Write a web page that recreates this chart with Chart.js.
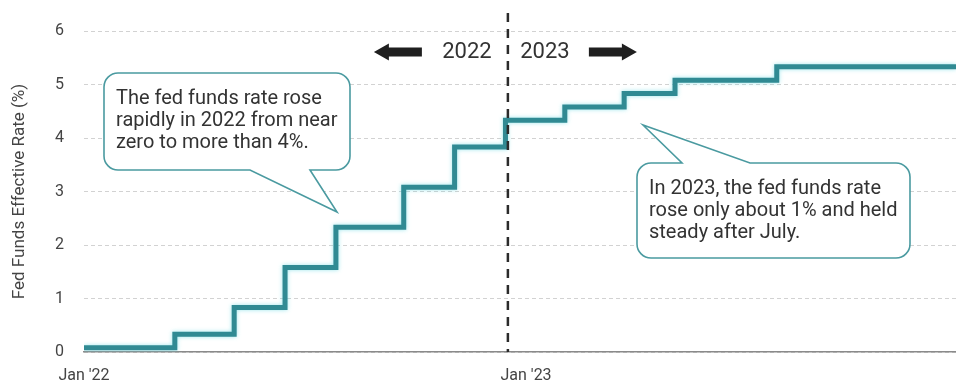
<!DOCTYPE html>
<html lang="en">
<head>
  <meta charset="UTF-8">
  <title>Fed Funds Effective Rate 2022-2023</title>
  <script src="https://cdn.jsdelivr.net/npm/chart.js"></script>
  <style>
    body {
      margin: 0;
      background: #ffffff;
    }
    #wrap {
      position: relative;
      width: 956px;
      height: 383px;
    }
  </style>
</head>
<body>
  <div id="wrap"><canvas id="graphTaux"></canvas></div>

  <script>
    // dates where the effective rate changed, and the new level (%)
    const changeDates = ['2022-01-01', '2022-03-17', '2022-05-05', '2022-06-16', '2022-07-28', '2022-09-22',
                         '2022-11-03', '2022-12-15', '2023-02-02', '2023-03-23', '2023-05-04', '2023-07-27', '2023-12-22'];
    const rates = [0.08, 0.33, 0.83, 1.58, 2.33, 3.08, 3.83, 4.33, 4.58, 4.83, 5.08, 5.33, 5.33];
    const xTickDates = ['2022-01-01', '2023-01-01'];
    const xTickLabels = ["Jan '22", "Jan '23"];
    const yTicks = [0, 1, 2, 3, 4, 5, 6];
    const dividerDate = '2022-12-17';
    const yearLabels = ['2022', '2023'];
    const note2022 = ['The fed funds rate rose', 'rapidly in 2022 from near', 'zero to more than 4%.'];
    const note2023 = ['In 2023, the fed funds rate', 'rose only about 1% and held', 'steady after July.'];

    const origin = Date.UTC(2022, 0, 1);
    function dayOf(s) {
      const p = s.split('-');
      return Math.round((Date.UTC(+p[0], +p[1] - 1, +p[2]) - origin) / 86400000);
    }

    const points = changeDates.map((d, i) => ({ x: dayOf(d), y: rates[i] }));
    const xTickDays = xTickDates.map(dayOf);

    function callout(ctx, b, tail, lines) {
      const r = 14;
      ctx.save();
      ctx.beginPath();
      ctx.moveTo(b.x + r, b.y);
      if (tail.side === 'top') {
        ctx.lineTo(tail.x1, b.y);
        ctx.lineTo(tail.tx, tail.ty);
        ctx.lineTo(tail.x2, b.y);
      }
      ctx.lineTo(b.x + b.w - r, b.y);
      ctx.arcTo(b.x + b.w, b.y, b.x + b.w, b.y + r, r);
      ctx.lineTo(b.x + b.w, b.y + b.h - r);
      ctx.arcTo(b.x + b.w, b.y + b.h, b.x + b.w - r, b.y + b.h, r);
      if (tail.side === 'bottom') {
        ctx.lineTo(tail.x2, b.y + b.h);
        ctx.lineTo(tail.tx, tail.ty);
        ctx.lineTo(tail.x1, b.y + b.h);
      }
      ctx.lineTo(b.x + r, b.y + b.h);
      ctx.arcTo(b.x, b.y + b.h, b.x, b.y + b.h - r, r);
      ctx.lineTo(b.x, b.y + r);
      ctx.arcTo(b.x, b.y, b.x + r, b.y, r);
      ctx.closePath();
      ctx.fillStyle = '#ffffff';
      ctx.fill();
      ctx.lineWidth = 1.6;
      ctx.strokeStyle = '#4a9aa0';
      ctx.stroke();
      ctx.fillStyle = '#333333';
      ctx.font = '20px Roboto';
      ctx.textBaseline = 'middle';
      ctx.textAlign = 'left';
      lines.forEach((t, i) => ctx.fillText(t, b.x + 12, b.y + 26 + i * 22));
      ctx.restore();
    }

    function arrow(ctx, x0, x1, y, dir) {
      // dir = -1 points left, 1 points right
      const head = 15;
      const tipX = dir < 0 ? x0 : x1;
      const baseX = tipX - dir * head;
      ctx.beginPath();
      ctx.moveTo(tipX, y);
      ctx.lineTo(baseX, y - 8.5);
      ctx.lineTo(baseX, y - 4.5);
      ctx.lineTo(dir < 0 ? x1 : x0, y - 4.5);
      ctx.lineTo(dir < 0 ? x1 : x0, y + 4.5);
      ctx.lineTo(baseX, y + 4.5);
      ctx.lineTo(baseX, y + 8.5);
      ctx.closePath();
      ctx.fill();
    }

    const lineGlow = {
      id: 'lineGlow',
      beforeDatasetDraw(chart) {
        chart.ctx.save();
        chart.ctx.shadowColor = 'rgba(90, 215, 225, 0.6)';
        chart.ctx.shadowBlur = 4;
      },
      afterDatasetDraw(chart) {
        chart.ctx.restore();
      }
    };

    const annotations = {
      id: 'annotations',
      afterDatasetsDraw(chart) {
        const ctx = chart.ctx;
        const xs = chart.scales.x;
        const area = chart.chartArea;
        const dx = xs.getPixelForValue(dayOf(dividerDate));

        ctx.save();
        ctx.strokeStyle = '#2b2b2b';
        ctx.lineWidth = 2.5;
        ctx.setLineDash([9, 7]);
        ctx.beginPath();
        ctx.moveTo(dx, 13);
        ctx.lineTo(dx, area.bottom);
        ctx.stroke();
        ctx.setLineDash([]);

        ctx.fillStyle = '#333333';
        ctx.font = '22px Roboto';
        ctx.textAlign = 'center';
        ctx.textBaseline = 'middle';
        ctx.fillText(yearLabels[0], dx - 41, 52);
        ctx.fillText(yearLabels[1], dx + 37, 52);

        ctx.fillStyle = '#1f1f1f';
        arrow(ctx, dx - 134, dx - 86, 52, -1);
        arrow(ctx, dx + 81, dx + 129, 52, 1);
        ctx.restore();

        callout(ctx, { x: 104, y: 73, w: 246, h: 97 }, { side: 'bottom', x1: 250, x2: 310, tx: 337, ty: 212 }, note2022);
        callout(ctx, { x: 637, y: 163, w: 273, h: 95 }, { side: 'top', x1: 682, x2: 750, tx: 643, ty: 125 }, note2023);
      }
    };

    new Chart(document.getElementById('graphTaux'), {
      type: 'line',
      data: {
        datasets: [{
          label: 'Fed Funds Effective Rate',
          data: points,
          stepped: true,
          borderColor: '#308a93',
          borderWidth: 5,
          pointRadius: 0,
          fill: false
        }]
      },
      options: {
        responsive: true,
        maintainAspectRatio: false,
        animation: false,
        layout: { padding: { top: 31, right: 0, bottom: 0, left: 0 } },
        plugins: { legend: { display: false }, tooltip: { enabled: false } },
        scales: {
          x: {
            type: 'linear',
            min: 0,
            max: 720,
            afterBuildTicks: s => { s.ticks = xTickDays.map(v => ({ value: v })); },
            afterFit: s => { s.height = 31; },
            ticks: {
              autoSkip: false,
              maxRotation: 0,
              padding: 14,
              color: '#444444',
              font: { family: 'Roboto', size: 16 },
              callback: v => xTickLabels[xTickDays.indexOf(v)]
            },
            grid: { display: false, drawTicks: false },
            border: { display: true, color: '#8a8a8a', width: 1.5 }
          },
          y: {
            min: 0,
            max: 6,
            afterBuildTicks: s => { s.ticks = yTicks.map(v => ({ value: v })); },
            afterFit: s => { s.width = 84; },
            ticks: {
              padding: 20,
              color: '#444444',
              font: { family: 'Roboto', size: 16 }
            },
            grid: { color: '#d2d2d2', lineWidth: 1, drawTicks: false },
            border: { display: false, dash: [4, 3] },
            title: {
              display: true,
              text: 'Fed Funds Effective Rate (%)',
              color: '#444444',
              font: { family: 'Roboto', size: 17 },
              padding: { top: 10, bottom: 0 }
            }
          }
        }
      },
      plugins: [lineGlow, annotations]
    });
  </script>
</body>
</html>
